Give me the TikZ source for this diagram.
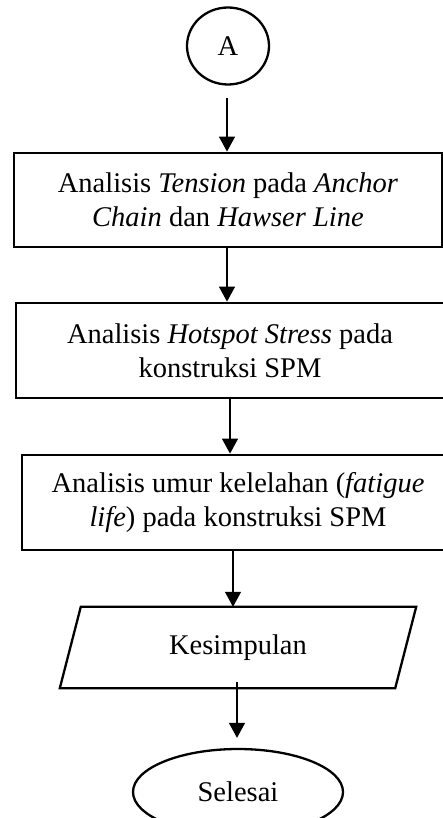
\documentclass[tikz,border=0pt]{standalone}
\usepackage{fontspec}
\setmainfont{Liberation Serif}
\usetikzlibrary{arrows.meta,shapes.geometric}

\tikzset{
  flowtext/.style={font=\fontsize{28.5}{33.5}\selectfont, align=center, inner sep=0pt},
  procbox/.style={flowtext, draw, line width=2.8pt},
  terminal/.style={flowtext, draw, ellipse, line width=2.3pt},
  flowarrow/.style={line width=1.3pt, -{Triangle[width=16pt,length=15pt]}},
}

\begin{document}
\begin{tikzpicture}[x=1pt, y=-1pt]
  \useasboundingbox (0,0) rectangle (443,818);
  \clip (0,0) rectangle (443,818);

  % connector symbol
  \node[terminal, minimum width=82pt, minimum height=77pt] (A) at (228,46) {A};

  % process steps
  \node[procbox, minimum width=428pt, minimum height=94pt] (b1) at (228,200)
    {Analisis \textit{Tension} pada \textit{Anchor}\\ \textit{Chain} dan \textit{Hawser Line}};
  \node[procbox, minimum width=428pt, minimum height=95pt] (b2) at (230,350.5)
    {Analisis \textit{Hotspot Stress} pada\\ konstruksi SPM};
  \node[procbox, minimum width=432pt, minimum height=95pt] (b3) at (238,502.5)
    {Analisis umur kelelahan (\textit{fatigue}\\ \textit{life}) pada konstruksi SPM};

  % output (parallelogram)
  \node[flowtext, minimum width=335pt, minimum height=81pt] (k) at (238,647.5) {Kesimpulan};
  \draw[line width=2.3pt, line join=miter]
    ([xshift=10.5pt]k.north west) -- ([xshift=10.5pt]k.north east) --
    ([xshift=-10.5pt]k.south east) -- ([xshift=-10.5pt]k.south west) -- cycle;

  % end terminal
  \node[terminal, minimum width=210pt, minimum height=86pt] (end) at (238,792) {Selesai};

  % connectors
  \draw[flowarrow] ([xshift=-1pt,yshift=-12pt]A.south) -- ([xshift=-1pt]b1.north);
  \draw[flowarrow] ([xshift=-1pt]b1.south) -- ([xshift=-3pt]b2.north);
  \draw[flowarrow] (b2.south) -- ([xshift=-8pt]b3.north);
  \draw[flowarrow] ([xshift=-5pt]b3.south) -- ([xshift=-5pt]k.north);
  \draw[flowarrow] ([xshift=-1pt,yshift=6pt]k.south) -- ([xshift=-1pt,yshift=10pt]end.north);
\end{tikzpicture}
\end{document}
